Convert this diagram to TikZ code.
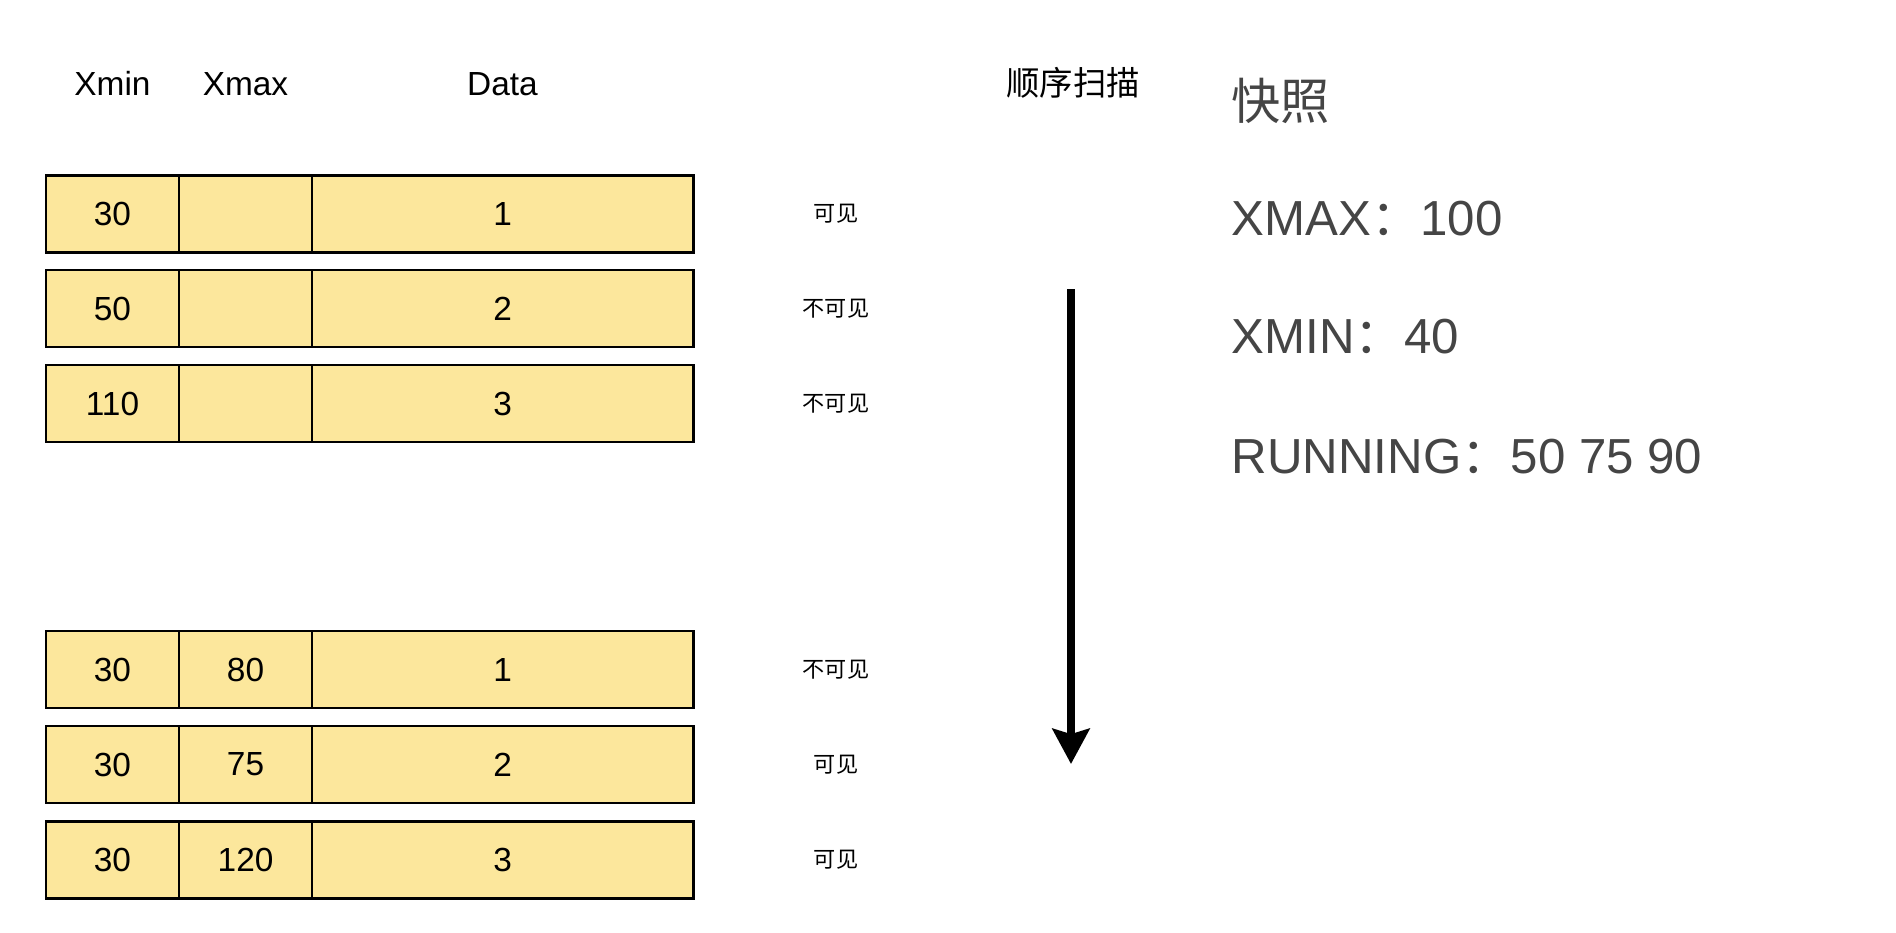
\documentclass[tikz,border=0pt]{standalone}
\usepackage{fontspec}
\setmainfont{Liberation Sans}
\newfontfamily\cjk{Noto Sans CJK SC}
\usetikzlibrary{positioning,arrows.meta}
\definecolor{rowfill}{HTML}{FCE79C}
\definecolor{snapgray}{HTML}{454545}

\begin{document}
\begin{tikzpicture}[x=0.01cm,y=-0.01cm,
    cell/.style={draw,line width=0.45pt,fill=rowfill,inner sep=0pt,outer sep=0pt,
      minimum height=0.77cm,font=\fontsize{9.5}{11}\selectfont},
    narrow/.style={cell,minimum width=1.33cm},
    wide/.style={cell,minimum width=3.81cm},
    vis/.style={font=\fontsize{6.3}{8}\cjk},
    head/.style={anchor=base,font=\fontsize{9.5}{11}\selectfont},
    snap/.style={anchor=base west,inner sep=0pt,text=snapgray,font=\fontsize{14}{17}\selectfont}]
  \useasboundingbox (0,0) rectangle (1896,932);

  % column heads
  \node[head] (hmin) at (112.5,95) {Xmin};
  \node[head] (hmax) at (245.5,95) {Xmax};
  \node[head] (hdata) at (502.5,95) {Data};
  \node[head,font=\fontsize{9.5}{11}\cjk] (hscan) at (1073,95) {顺序扫描};

  % tuples
  \foreach \y/\a/\b/\c/\v [count=\i] in {214/30//1/可见, 308.5/50//2/不可见,
      403.5/110//3/不可见, 669.5/30/80/1/不可见, 764.5/30/75/2/可见, 860/30/120/3/可见} {
    \node[narrow] (min\i) at (112.5,\y) {\a};
    \node[narrow,right=0pt of min\i] (max\i) {\b};
    \node[wide,right=0pt of max\i] (data\i) {\c};
    \draw[line width=0.7pt] (min\i.north west) rectangle (data\i.south east);
    \node[vis] (vis\i) at (836,\y) {\v};
  }

  % scan direction
  \coordinate (scantop) at (1071,289);
  \coordinate (scanbot) at (1071,764);
  \draw[line width=2.2pt,-{Stealth[length=10pt,width=10.5pt,inset=1.5pt]}] (scantop) -- (scanbot);

  % snapshot
  \node[snap,font=\fontsize{14}{17}\cjk] (snaphead) at (1231,119) {快照};
  \node[snap] (snapmax) at (1231,235) {XMAX{\cjk ：}100};
  \node[snap] (snapmin) at (1231,353) {XMIN{\cjk ：}40};
  \node[snap] (snaprun) at (1231,473) {RUNNING{\cjk ：}50 75 90};
\end{tikzpicture}
\end{document}
